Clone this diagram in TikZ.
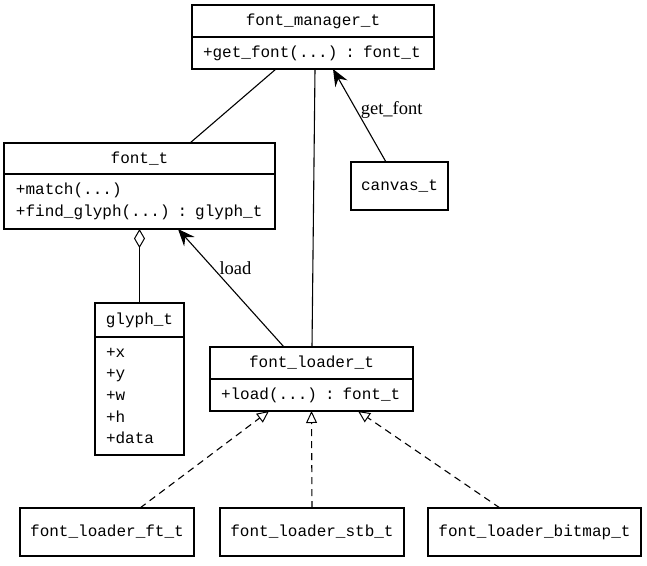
\documentclass[tikz,border=0pt]{standalone}
\usepackage{fontspec}
\setmainfont{Liberation Serif}
\setmonofont{Liberation Mono}
\usetikzlibrary{arrows.meta}
\begin{document}
\begin{tikzpicture}[x=1pt,y=-1pt,line width=1.1pt,
  mono/.style={font=\ttfamily\fontsize{16}{21.7}\selectfont},
  hdr/.style={draw,mono,inner sep=0pt,outer sep=0pt,align=center},
  body/.style={draw,mono,inner ysep=0pt,outer sep=0pt,align=left},
  plain/.style={draw,mono,inner sep=0pt,outer sep=0pt},
  lbl/.style={font=\fontsize{18.5}{20}\selectfont,inner sep=4pt},
  real/.style={-{Triangle[open,length=12pt,width=11pt,line width=1pt]},dashed,dash pattern=on 7pt off 5pt},
  call/.style={-{Stealth[length=17pt,width=14pt,inset=6pt]}}
]
\useasboundingbox (0,0) rectangle (647,565);
% font_manager_t
\node[hdr,minimum width=242pt,minimum height=32pt] (fmh) at (313,21) {font\_manager\_t};
\node[body,text width=220pt,inner xsep=11pt,minimum height=32pt] (fmb) at (313,53) {+get\_font(...) : font\_t};
% font_t
\node[hdr,minimum width=271pt,minimum height=31pt] (fth) at (139.5,158.5) {font\_t};
\node[body,text width=247pt,inner xsep=12pt,minimum height=55pt] (ftb) at (139.5,201.5) {+match(...)\\+find\_glyph(...) : glyph\_t};
% glyph_t
\node[hdr,minimum width=89pt,minimum height=34pt] (gh) at (139.5,320) {glyph\_t};
\node[body,text width=67pt,inner xsep=11pt,minimum height=118pt] (gb) at (139.5,396) {+x\\+y\\+w\\+h\\+data};
% font_loader_t
\node[hdr,minimum width=203pt,minimum height=32pt] (lh) at (311.5,363) {font\_loader\_t};
\node[body,text width=181pt,inner xsep=11pt,minimum height=32pt] (lb) at (311.5,395) {+load(...) : font\_t};
% canvas_t
\node[plain,minimum width=97pt,minimum height=48pt] (cv) at (399.5,186) {canvas\_t};
% loaders
\node[plain,minimum width=174pt,minimum height=48pt] (ft) at (107,532) {font\_loader\_ft\_t};
\node[plain,minimum width=184pt,minimum height=48pt] (stb) at (312,532) {font\_loader\_stb\_t};
\node[plain,minimum width=213pt,minimum height=48pt] (bm) at (534.5,532) {font\_loader\_bitmap\_t};
% connectors
\draw ([xshift=-37pt]fmb.south) -- ([xshift=50.5pt]fth.north);
\draw ([xshift=2pt]fmb.south) -- ([xshift=0.5pt]lh.north);
\draw[call] ([xshift=-13.5pt]cv.north) -- node[lbl,pos=0.56,anchor=west] {get\_font} ([xshift=20pt]fmb.south);
\draw[call] ([xshift=-27.5pt]lh.north) -- node[lbl,pos=0.67,anchor=west,xshift=2pt] {load} ([xshift=38.5pt]ftb.south);
\draw[-{Diamond[open,length=19pt,width=11pt,line width=1pt]}] (gh.north) -- (ftb.south);
\draw[real] ([xshift=33pt]ft.north) -- ([xshift=-42.5pt]lb.south);
\draw[real] (stb.north) -- (lb.south);
\draw[real] ([xshift=-34.5pt]bm.north) -- ([xshift=46.5pt]lb.south);
\end{tikzpicture}
\end{document}
